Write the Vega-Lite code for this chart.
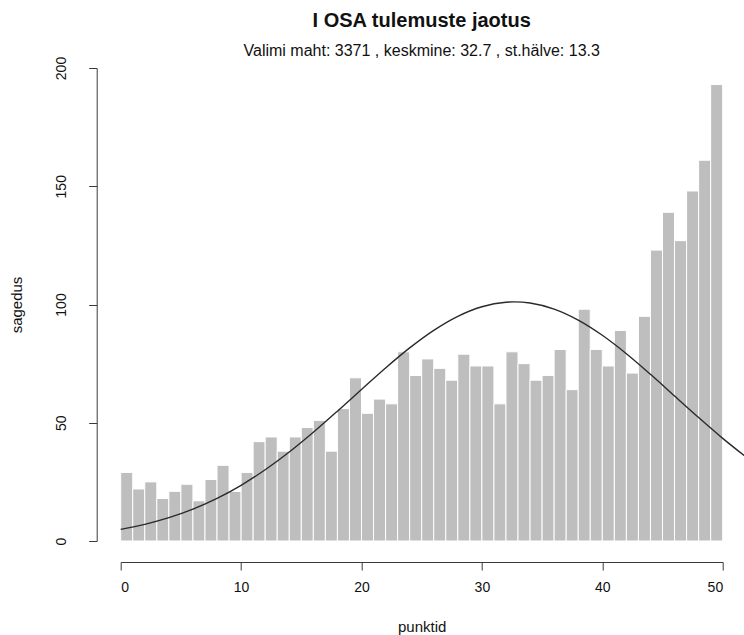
{
  "$schema": "https://vega.github.io/schema/vega-lite/v6.json",
  "width": 602,
  "height": 473,
  "autosize": "none",
  "padding": {"left": 120.7, "top": 68, "right": 21.3, "bottom": 94},
  "background": "white",
  "title": {
    "text": "I OSA tulemuste jaotus",
    "subtitle": "Valimi maht: 3371 , keskmine: 32.7 , st.hälve: 13.3",
    "anchor": "middle",
    "font": "Liberation Sans",
    "fontSize": 20,
    "fontWeight": "bold",
    "color": "#111111",
    "subtitleFont": "Liberation Sans",
    "subtitleFontSize": 16,
    "subtitleColor": "#111111",
    "subtitlePadding": 12,
    "offset": -3
  },
  "config": {
    "view": {"stroke": null},
    "font": "Liberation Sans",
    "axis": {
      "grid": false,
      "domainColor": "#3a3a3a",
      "tickColor": "#3a3a3a",
      "labelColor": "#111111",
      "titleColor": "#111111",
      "labelFont": "Liberation Sans",
      "titleFont": "Liberation Sans",
      "labelFontSize": 14,
      "titleFontSize": 15,
      "titleFontWeight": "normal",
      "tickSize": 8,
      "domainWidth": 1,
      "tickWidth": 1
    },
    "axisX": {"offset": 21, "labelPadding": 10, "titlePadding": 25},
    "axisY": {"offset": 24, "labelAngle": -90, "labelAlign": "center", "labelBaseline": "bottom", "labelPadding": 20, "titlePadding": 30}
  },
  "layer": [
    {
      "data": {"values": [
        {"lo": 0, "hi": 1, "count": 29}, {"lo": 1, "hi": 2, "count": 22}, {"lo": 2, "hi": 3, "count": 25}, {"lo": 3, "hi": 4, "count": 18}, {"lo": 4, "hi": 5, "count": 21},
        {"lo": 5, "hi": 6, "count": 24}, {"lo": 6, "hi": 7, "count": 17}, {"lo": 7, "hi": 8, "count": 26}, {"lo": 8, "hi": 9, "count": 32}, {"lo": 9, "hi": 10, "count": 21},
        {"lo": 10, "hi": 11, "count": 29}, {"lo": 11, "hi": 12, "count": 42}, {"lo": 12, "hi": 13, "count": 44}, {"lo": 13, "hi": 14, "count": 38}, {"lo": 14, "hi": 15, "count": 44},
        {"lo": 15, "hi": 16, "count": 48}, {"lo": 16, "hi": 17, "count": 51}, {"lo": 17, "hi": 18, "count": 38}, {"lo": 18, "hi": 19, "count": 56}, {"lo": 19, "hi": 20, "count": 69},
        {"lo": 20, "hi": 21, "count": 54}, {"lo": 21, "hi": 22, "count": 60}, {"lo": 22, "hi": 23, "count": 58}, {"lo": 23, "hi": 24, "count": 80}, {"lo": 24, "hi": 25, "count": 70},
        {"lo": 25, "hi": 26, "count": 77}, {"lo": 26, "hi": 27, "count": 73}, {"lo": 27, "hi": 28, "count": 68}, {"lo": 28, "hi": 29, "count": 79}, {"lo": 29, "hi": 30, "count": 74},
        {"lo": 30, "hi": 31, "count": 74}, {"lo": 31, "hi": 32, "count": 58}, {"lo": 32, "hi": 33, "count": 80}, {"lo": 33, "hi": 34, "count": 75}, {"lo": 34, "hi": 35, "count": 68},
        {"lo": 35, "hi": 36, "count": 70}, {"lo": 36, "hi": 37, "count": 81}, {"lo": 37, "hi": 38, "count": 64}, {"lo": 38, "hi": 39, "count": 98}, {"lo": 39, "hi": 40, "count": 81},
        {"lo": 40, "hi": 41, "count": 74}, {"lo": 41, "hi": 42, "count": 89}, {"lo": 42, "hi": 43, "count": 71}, {"lo": 43, "hi": 44, "count": 95}, {"lo": 44, "hi": 45, "count": 123},
        {"lo": 45, "hi": 46, "count": 139}, {"lo": 46, "hi": 47, "count": 127}, {"lo": 47, "hi": 48, "count": 148}, {"lo": 48, "hi": 49, "count": 161}, {"lo": 49, "hi": 50, "count": 193}
      ]},
      "mark": {"type": "rect", "fill": "#bebebe", "stroke": "white", "strokeWidth": 1},
      "encoding": {
        "x": {"field": "lo", "type": "quantitative", "title": "punktid", "scale": {"domain": [0, 50], "nice": false, "zero": false}, "axis": {"values": [0, 10, 20, 30, 40, 50]}},
        "x2": {"field": "hi"},
        "y": {"field": "count", "type": "quantitative", "title": "sagedus", "scale": {"domain": [0, 200], "nice": false}, "axis": {"values": [0, 50, 100, 150, 200]}},
        "y2": {"datum": 0}
      }
    },
    {
      "data": {"values": [
        {"px": 0, "dens": 4.92}, {"px": 2, "dens": 7.04}, {"px": 4, "dens": 9.86}, {"px": 6, "dens": 13.48}, {"px": 8, "dens": 18.03},
        {"px": 10, "dens": 23.56}, {"px": 12, "dens": 30.12}, {"px": 14, "dens": 37.63}, {"px": 16, "dens": 45.97}, {"px": 18, "dens": 54.9},
        {"px": 20, "dens": 64.1}, {"px": 22, "dens": 73.16}, {"px": 24, "dens": 81.64}, {"px": 26, "dens": 89.07}, {"px": 28, "dens": 95.0},
        {"px": 30, "dens": 99.06}, {"px": 32, "dens": 100.98}, {"px": 32.7, "dens": 101.12}, {"px": 34, "dens": 100.64}, {"px": 36, "dens": 98.05},
        {"px": 38, "dens": 93.4}, {"px": 40, "dens": 86.98}, {"px": 42, "dens": 79.19}, {"px": 44, "dens": 70.48}, {"px": 46, "dens": 61.33},
        {"px": 48, "dens": 52.18}, {"px": 50, "dens": 43.4}, {"px": 52, "dens": 35.28}
      ]},
      "mark": {"type": "line", "color": "#2a2a2a", "strokeWidth": 1.4, "interpolate": "monotone", "clip": false},
      "encoding": {
        "x": {"field": "px", "type": "quantitative", "title": "punktid"},
        "y": {"field": "dens", "type": "quantitative", "title": "sagedus"}
      }
    }
  ]
}
